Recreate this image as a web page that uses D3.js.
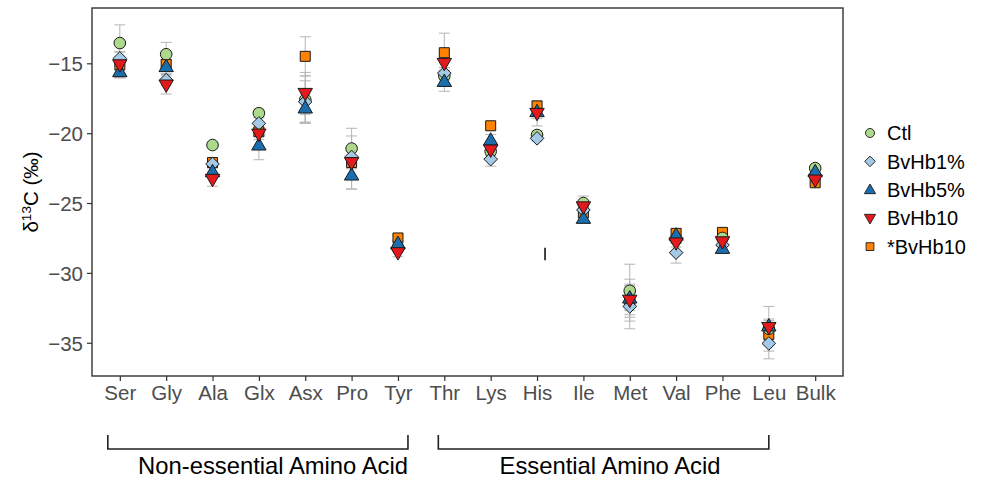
<!DOCTYPE html>
<html>
<head>
<meta charset="utf-8">
<script src="https://cdn.jsdelivr.net/npm/d3@7"></script>
<style>
  html, body { margin: 0; padding: 0; background: #fff; }
  svg { display: block; font-family: "Liberation Sans", Arial, sans-serif; }
</style>
</head>
<body>
<svg id="chart" width="992" height="482"></svg>
<script>
// Amino acid categories along the x axis
const categories = ["Ser", "Gly", "Ala", "Glx", "Asx", "Pro", "Tyr", "Thr", "Lys", "His", "Ile", "Met", "Val", "Phe", "Leu", "Bulk"];

// Mean δ13C values (‰) per treatment
const ctl     = [-13.55, -14.35, -20.85, -18.57, -17.6, -21.1, -28.2, -15.9, -21.3, -20.13, -25.0, -31.28, -27.6, -27.5, -34.0, -22.5];
const bvhb1   = [-14.65, -16.2, -22.2, -19.3, -17.75, -21.7, -28.3, -15.7, -21.86, -20.37, -25.5, -32.4, -28.55, -28.0, -35.05, -23.0];
const bvhb5   = [-15.6, -15.24, -22.76, -20.85, -18.2, -23.0, -27.9, -16.3, -20.5, -18.46, -26.1, -31.8, -27.3, -28.25, -33.8, -22.76];
const bvhb10  = [-15.1, -16.55, -23.3, -20.06, -17.15, -22.1, -28.55, -15.0, -21.2, -18.58, -25.27, -31.95, -27.85, -27.77, -33.9, -23.35];
const sbvhb10 = [-15.1, -15.07, -22.1, -19.9, -14.5, -22.1, -27.5, -14.24, -19.47, -18.05, -25.7, -32.0, -27.17, -27.1, -34.4, -23.55];

// Standard deviations per treatment
const ctlSd     = [1.3, 0.85, 0.2, 0.3, 1.7, 1.45, 0.2, 0.3, 0.3, 0.3, 0.5, 1.9, 0.3, 0.2, 1.6, 0.2];
const bvhb1Sd   = [0.5, 0.4, 0.3, 0.4, 1.5, 0.5, 0.2, 0.4, 0.5, 0.2, 0.4, 1.6, 0.75, 0.3, 1.1, 0.2];
const bvhb5Sd   = [0.45, 0.5, 0.3, 1.05, 1.0, 1.0, 0.2, 0.7, 0.4, 0.5, 0.3, 0.9, 0.3, 0.3, 0.5, 0.2];
const bvhb10Sd  = [0.9, 0.65, 0.5, 0.4, 1.5, 1.9, 0.3, 0.5, 0.4, 0.9, 0.4, 1.5, 0.3, 0.3, 0.5, 0.2];
const sbvhb10Sd = [0.4, 0.3, 0.3, 0.3, 1.4, 0.4, 0.2, 1.4, 0.3, 0.3, 0.3, 1.0, 0.3, 0.2, 0.4, 0.2];

const seriesNames = ["Ctl", "BvHb1%", "BvHb5%", "BvHb10", "*BvHb10"];
const yTicks = [-15, -20, -25, -30, -35];

const series = [
  { name: "*BvHb10", values: sbvhb10, sd: sbvhb10Sd, shape: "square",   fill: "#ff8300" },
  { name: "Ctl",     values: ctl,     sd: ctlSd,     shape: "circle",   fill: "#acd98c" },
  { name: "BvHb1%",  values: bvhb1,   sd: bvhb1Sd,   shape: "diamond",  fill: "#a3c9e6" },
  { name: "BvHb5%",  values: bvhb5,   sd: bvhb5Sd,   shape: "triUp",    fill: "#1a6eae" },
  { name: "BvHb10",  values: bvhb10,  sd: bvhb10Sd,  shape: "triDown",  fill: "#e3191c" }
];

const svg = d3.select("#chart");
const panel = { left: 92, right: 843, top: 8, bottom: 376 };

const x = d3.scalePoint().domain(categories).range([panel.left, panel.right]).padding(0.6);
const y = d3.scaleLinear().domain([-37.38, -11.04]).range([panel.bottom, panel.top]);

// Marker path generator; k scales the marker
function shapePath(shape, k) {
  const p = d3.path();
  if (shape === "circle") {
    p.arc(0, 0, 5.8 * k, 0, 2 * Math.PI);
  } else if (shape === "square") {
    const s = 5 * k;
    p.rect(-s, -s, 2 * s, 2 * s);
  } else if (shape === "diamond") {
    const s = 6.8 * k;
    p.moveTo(0, -s); p.lineTo(s, 0); p.lineTo(0, s); p.lineTo(-s, 0); p.closePath();
  } else if (shape === "triUp") {
    const w = 7.2 * k, h = 12.4 * k;
    p.moveTo(0, -h * 0.6); p.lineTo(w, h * 0.4); p.lineTo(-w, h * 0.4); p.closePath();
  } else if (shape === "triDown") {
    const w = 7.2 * k, h = 12.4 * k;
    p.moveTo(0, h * 0.6); p.lineTo(w, -h * 0.4); p.lineTo(-w, -h * 0.4); p.closePath();
  }
  return p.toString();
}

// Panel background
svg.append("rect")
  .attr("x", panel.left).attr("y", panel.top)
  .attr("width", panel.right - panel.left).attr("height", panel.bottom - panel.top)
  .attr("fill", "#fff");

// Error bars
const gErr = svg.append("g").attr("stroke", "#b5b5b5").attr("stroke-width", 1).attr("fill", "none");
series.forEach(s => {
  categories.forEach((c, i) => {
    const cx = x(c), lo = y(s.values[i] - s.sd[i]), hi = y(s.values[i] + s.sd[i]);
    gErr.append("line").attr("x1", cx).attr("x2", cx).attr("y1", lo).attr("y2", hi);
    gErr.append("line").attr("x1", cx - 5.5).attr("x2", cx + 5.5).attr("y1", lo).attr("y2", lo);
    gErr.append("line").attr("x1", cx - 5.5).attr("x2", cx + 5.5).attr("y1", hi).attr("y2", hi);
  });
});

// Points
series.forEach(s => {
  svg.append("g").selectAll("path")
    .data(categories.map((c, i) => ({ c, v: s.values[i] })))
    .join("path")
    .attr("d", shapePath(s.shape, 1))
    .attr("transform", d => `translate(${x(d.c)},${y(d.v)})`)
    .attr("fill", s.fill)
    .attr("stroke", "#1a1a1a")
    .attr("stroke-width", 1);
});

// Short vertical mark beside His
svg.append("line")
  .attr("x1", x("His") + 8).attr("x2", x("His") + 8)
  .attr("y1", y(-28.2)).attr("y2", y(-29.1))
  .attr("stroke", "#000").attr("stroke-width", 1.5);

// Panel border
svg.append("rect")
  .attr("x", panel.left).attr("y", panel.top)
  .attr("width", panel.right - panel.left).attr("height", panel.bottom - panel.top)
  .attr("fill", "none").attr("stroke", "#333").attr("stroke-width", 1.4);

// Axes
const yAxis = svg.append("g").attr("transform", `translate(${panel.left},0)`)
  .call(d3.axisLeft(y).tickValues(yTicks).tickSize(5).tickPadding(4).tickFormat(d => "\u2212" + Math.abs(d)));
const xAxis = svg.append("g").attr("transform", `translate(0,${panel.bottom})`)
  .call(d3.axisBottom(x).tickSize(5).tickPadding(4));
[yAxis, xAxis].forEach(a => {
  a.select(".domain").remove();
  a.selectAll(".tick line").attr("stroke", "#333").attr("stroke-width", 1.2);
  a.selectAll(".tick text").attr("fill", "#4d4d4d").style("font-size", "20.5px")
    .style("font-family", "'Liberation Sans', Arial, sans-serif");
});
xAxis.selectAll(".tick text").attr("dy", "0.75em");
yAxis.selectAll(".tick text").attr("dy", "0.36em");

// Y axis title: δ13C (‰)
const yt = svg.append("text")
  .attr("transform", `translate(38,${(panel.top + panel.bottom) / 2}) rotate(-90)`)
  .attr("text-anchor", "middle")
  .style("font-size", "20.5px").attr("fill", "#000");
yt.append("tspan").text("\u03b4");
yt.append("tspan").text("13").attr("baseline-shift", "super").style("font-size", "13.5px");
yt.append("tspan").text("C (\u2030)");

// Legend
const legend = svg.append("g").attr("transform", "translate(870,133)");
const legendOrder = seriesNames.map(n => series.find(s => s.name === n));
legendOrder.forEach((s, i) => {
  const g = legend.append("g").attr("transform", `translate(0,${i * 28.4})`);
  g.append("path").attr("d", shapePath(s.shape, 0.78))
    .attr("fill", s.fill).attr("stroke", "#1a1a1a").attr("stroke-width", 0.9);
  g.append("text").attr("x", 17).attr("dy", "0.36em")
    .style("font-size", "20px").attr("fill", "#000").text(s.name);
});

// Group brackets beneath the axis
const groups = [
  { label: "Non-essential Amino Acid", from: "Ser", to: "Tyr", padL: 12, padR: 10, labelCenter: 273 },
  { label: "Essential Amino Acid", from: "Thr", to: "Leu", padL: 6, padR: 0, labelCenter: 610 }
];
const bracketTop = 435, bracketBase = 449;
groups.forEach(g => {
  const x0 = x(g.from) - g.padL, x1 = x(g.to) + g.padR;
  svg.append("path")
    .attr("d", `M${x0},${bracketTop}V${bracketBase}H${x1}V${bracketTop}`)
    .attr("fill", "none").attr("stroke", "#222").attr("stroke-width", 1.6);
  svg.append("text")
    .attr("x", g.labelCenter).attr("y", 474)
    .attr("text-anchor", "middle")
    .style("font-size", "23.8px").attr("fill", "#000")
    .text(g.label);
});
</script>
</body>
</html>
